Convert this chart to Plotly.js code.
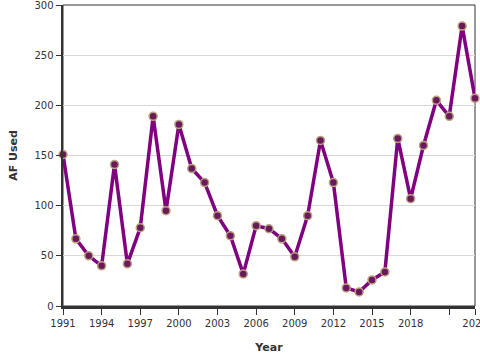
<!DOCTYPE html>
<html>
<head>
<meta charset="utf-8">
<script src="https://cdn.plot.ly/plotly-3.0.1.min.js"></script>
<style>
html,body{margin:0;padding:0;background:#fff;}
#chart{width:480px;height:360px;}
</style>
</head>
<body>
<div id="chart"></div>
<script>
const years = [1991,1992,1993,1994,1995,1996,1997,1998,1999,2000,2001,2002,2003,2004,2005,2006,2007,2008,2009,2010,2011,2012,2013,2014,2015,2016,2017,2018,2019,2020,2021,2022,2023];
const afUsed = [151,67,50,40,141,42,78,189,95,181,137,123,90,70,32,80,77,67,49,90,165,123,18,14,26,34,167,107,160,205,189,279,207];
const xTickVals = [1991,1994,1997,2000,2003,2006,2009,2012,2015,2018,2021,2023];
const xTickText = ["1991","1994","1997","2000","2003","2006","2009","2012","2015","2018","","2023"];
const yTickVals = [0,50,100,150,200,250,300];

const trace = {
  x: years,
  y: afUsed,
  type: 'scatter',
  mode: 'lines+markers',
  line: {color: '#800080', width: 3.5},
  marker: {size: 8, color: '#6a1a5c', line: {color: '#b9a27c', width: 1.5}},
  cliponaxis: false,
  hoverinfo: 'x+y'
};

const layout = {
  width: 480, height: 360,
  margin: {l: 63, r: 5, t: 5, b: 54},
  paper_bgcolor: '#fff', plot_bgcolor: '#fff',
  font: {family: 'DejaVu Sans, sans-serif', size: 10, color: '#333'},
  showlegend: false,
  xaxis: {
    range: [1991, 2023],
    tickvals: xTickVals, ticktext: xTickText,
    ticks: 'outside', ticklen: 6, tickwidth: 1, tickcolor: '#333',
    ticklabeloverflow: 'allow',
    showline: true, linecolor: '#333', linewidth: 2.5,
    showgrid: false, zeroline: false,
    tickfont: {size: 10, color: '#333'},
    title: {text: 'Year', font: {size: 11, color: '#333', weight: 'bold'}, standoff: 16}
  },
  yaxis: {
    range: [0, 300],
    tickvals: yTickVals,
    ticks: 'outside', ticklen: 5, tickwidth: 1, tickcolor: '#333',
    ticklabeloverflow: 'allow',
    showline: true, linecolor: '#333', linewidth: 2.5,
    showgrid: true, gridcolor: '#d8d8d8', gridwidth: 1,
    zeroline: false,
    tickfont: {size: 10, color: '#333'},
    title: {text: 'AF Used', font: {size: 11, color: '#333', weight: 'bold'}, standoff: 15}
  },
  shapes: [{
    type: 'rect', xref: 'paper', yref: 'paper', x0: 0, x1: 1, y0: 0, y1: 1,
    line: {color: '#333', width: 1}, layer: 'below'
  }]
};

Plotly.newPlot('chart', [trace], layout, {displayModeBar: false, staticPlot: true});
</script>
</body>
</html>
